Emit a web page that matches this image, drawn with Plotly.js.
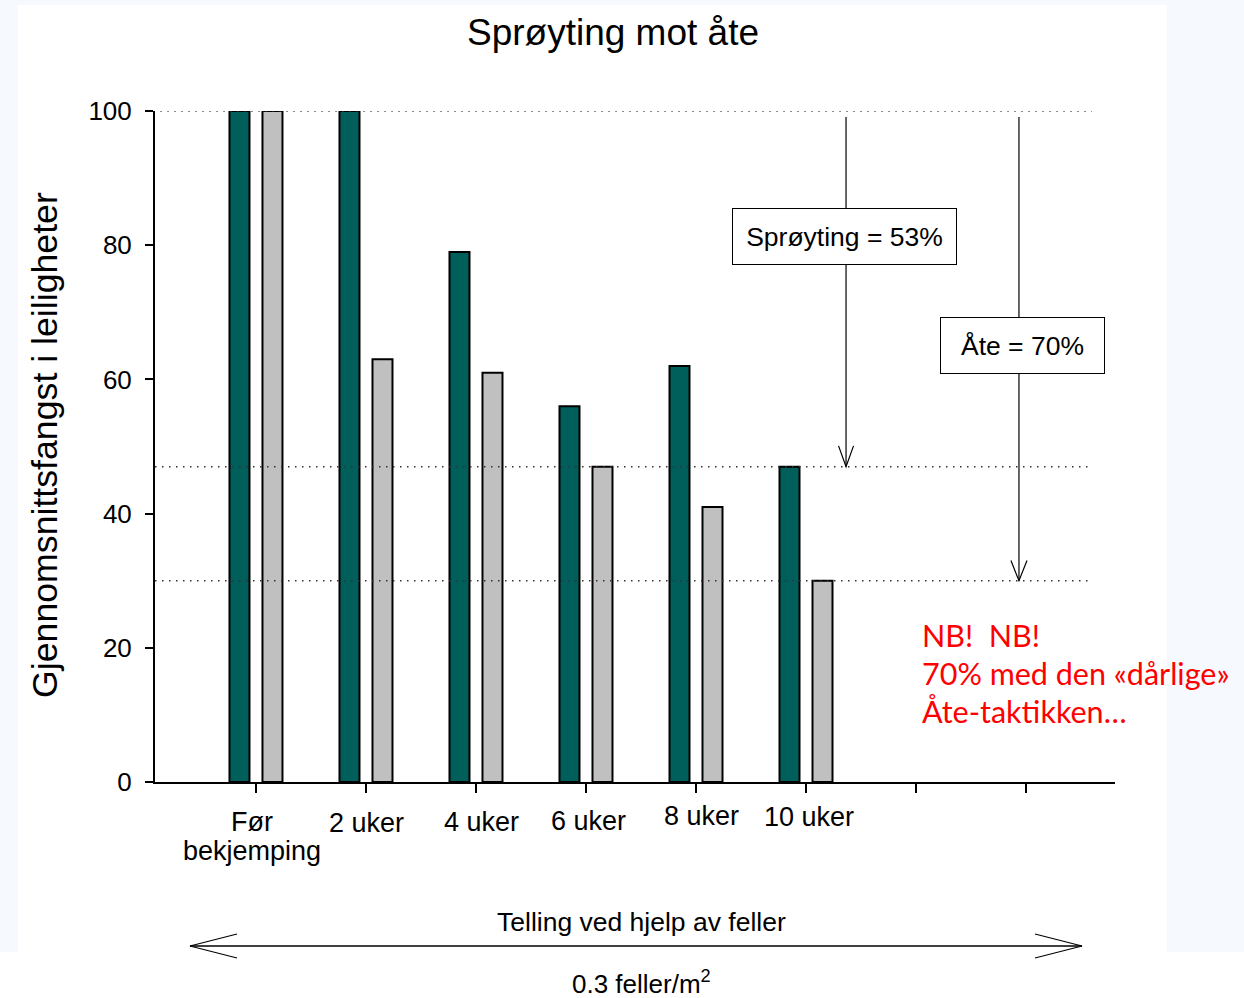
<!DOCTYPE html>
<html>
<head>
<meta charset="utf-8">
<script src="https://cdn.plot.ly/plotly-3.0.1.min.js"></script>
<style>html,body{margin:0;padding:0;background:#fff;}#chart{width:1244px;height:998px;}</style>
</head>
<body>
<div id="chart"></div>
<script>
// ---- data ----
const categories = ["Før<br>bekjemping", "2 uker", "4 uker", "6 uker", "8 uker", "10 uker", "", ""];
const sproyting = [100, 100, 79, 56, 62, 47];
const ate = [100, 63, 61, 47, 41, 30];
const sproytingLabel = "Sprøyting = 53%";
const ateLabel = "Åte = 70%";
const noteLines = ["NB!  NB!", "70% med den «dårlige»", "Åte-taktikken…"];
const titleText = "Sprøyting mot åte";
const yTitleText = "Gjennomsnittsfangst i leiligheter";
const bottomText1 = "Telling ved hjelp av feller";
const bottomText2 = "0.3 feller/m<sup>2</sup>";

// ---- layout helpers (pixel -> paper) ----
const L = 155, R = 1115, T = 111, B = 782;
const px = x => (x - L) / (R - L);
const py = y => (B - y) / (B - T);
const FONT = "Liberation Sans, Arial, sans-serif";

const idx = categories.map((c, i) => i);
const barIdx = sproyting.map((v, i) => i);

const traces = [
  { type: 'bar', x: barIdx, y: sproyting, name: 'Sprøyting',
    marker: { color: '#005E5B', line: { color: '#000', width: 2 } }, hoverinfo: 'y' },
  { type: 'bar', x: barIdx, y: ate, name: 'Åte',
    marker: { color: '#C0C0C0', line: { color: '#000', width: 2 } }, hoverinfo: 'y' }
];

const lastS = sproyting[sproyting.length - 1];
const lastA = ate[ate.length - 1];
const arrowX1 = 5.364, arrowX2 = 6.936;
const dot = { color: '#333', width: 1.5, dash: '1.5px,5.5px' };

const shapes = [
  // faint page background frame
  { type: 'rect', xref: 'paper', yref: 'paper', x0: px(0), x1: px(18), y0: py(952), y1: py(0), fillcolor: '#F6F9FD', line: { width: 0 }, layer: 'below' },
  { type: 'rect', xref: 'paper', yref: 'paper', x0: px(1167), x1: px(1244), y0: py(952), y1: py(0), fillcolor: '#F6F9FD', line: { width: 0 }, layer: 'below' },
  { type: 'rect', xref: 'paper', yref: 'paper', x0: px(18), x1: px(1167), y0: py(5), y1: py(0), fillcolor: '#F6F9FD', line: { width: 0 }, layer: 'below' },
  // dotted reference lines
  { type: 'line', xref: 'x', yref: 'y', x0: -0.87, x1: 7.6, y0: 100, y1: 100, line: dot, layer: 'above' },
  { type: 'line', xref: 'x', yref: 'y', x0: -0.918, x1: 7.6, y0: lastS, y1: lastS, line: dot, layer: 'above' },
  { type: 'line', xref: 'x', yref: 'y', x0: -0.918, x1: 7.6, y0: lastA, y1: lastA, line: dot, layer: 'above' },
  // vertical arrows
  { type: 'line', xref: 'x', yref: 'y', x0: arrowX1, x1: arrowX1, y0: 99.1, y1: lastS, line: { color: '#000', width: 1.2 } },
  { type: 'path', xref: 'x', yref: 'y', path: `M ${arrowX1 - 0.068} ${lastS + 3.1} L ${arrowX1} ${lastS} L ${arrowX1 + 0.068} ${lastS + 3.1}`, line: { color: '#000', width: 1.2 } },
  { type: 'line', xref: 'x', yref: 'y', x0: arrowX2, x1: arrowX2, y0: 99.1, y1: lastA, line: { color: '#000', width: 1.2 } },
  { type: 'path', xref: 'x', yref: 'y', path: `M ${arrowX2 - 0.073} ${lastA + 3.0} L ${arrowX2} ${lastA} L ${arrowX2 + 0.073} ${lastA + 3.0}`, line: { color: '#000', width: 1.2 } },
  // bottom double arrow
  { type: 'line', xref: 'paper', yref: 'paper', x0: px(190), x1: px(1082), y0: py(946), y1: py(946), line: { color: '#000', width: 1.5 } },
  { type: 'path', xref: 'paper', yref: 'paper', path: `M ${px(237)} ${py(934)} L ${px(190)} ${py(946)} L ${px(237)} ${py(958)}`, line: { color: '#000', width: 1.2 } },
  { type: 'path', xref: 'paper', yref: 'paper', path: `M ${px(1035)} ${py(934)} L ${px(1082)} ${py(946)} L ${px(1035)} ${py(958)}`, line: { color: '#000', width: 1.2 } }
];

// category label placement (pixel centres)
const labelDx = [-4, 1, 6, 3, 5, 3];
const labelY = [822, 823, 822, 821, 816, 817];
const annotations = [];
categories.forEach((c, i) => {
  if (!c) return;
  const lines = c.split('<br>');
  lines.forEach((ln, k) => {
    annotations.push({ xref: 'x', yref: 'paper', x: i + labelDx[i] / 110, y: py(labelY[i] + k * 29),
      text: ln, showarrow: false, xanchor: 'center', yanchor: 'middle',
      font: { family: FONT, size: 27, color: '#000' } });
  });
});
noteLines.forEach((ln, k) => {
  annotations.push({ xref: 'paper', yref: 'paper', x: px(920), y: py(635 + k * 38), text: ln, showarrow: false,
    align: 'left', xanchor: 'left', yanchor: 'middle',
    font: { family: 'Lato, Noto Sans, sans-serif', size: 30.5, color: '#FF0000' } });
});
annotations.push(
  { xref: 'paper', yref: 'paper', x: px(45), y: py(445), text: yTitleText, textangle: -90, showarrow: false,
    xanchor: 'center', yanchor: 'middle', font: { family: FONT, size: 35.7, color: '#000' } },
  { xref: 'paper', yref: 'paper', x: px(844.5), y: py(236.5), text: sproytingLabel, showarrow: false,
    xanchor: 'center', yanchor: 'middle', bgcolor: '#fff', bordercolor: '#000', borderwidth: 1, borderpad: 1,
    width: 221, height: 53, font: { family: FONT, size: 26.5, color: '#000' } },
  { xref: 'paper', yref: 'paper', x: px(1022.5), y: py(345.5), text: ateLabel, showarrow: false,
    xanchor: 'center', yanchor: 'middle', bgcolor: '#fff', bordercolor: '#000', borderwidth: 1, borderpad: 1,
    width: 161, height: 53, font: { family: FONT, size: 26.5, color: '#000' } },
  { xref: 'paper', yref: 'paper', x: px(641), y: py(922), text: bottomText1, showarrow: false,
    xanchor: 'center', yanchor: 'middle', font: { family: FONT, size: 26.5, color: '#000' } },
  { xref: 'paper', yref: 'paper', x: px(641), y: py(983), text: bottomText2, showarrow: false,
    xanchor: 'center', yanchor: 'middle', font: { family: FONT, size: 26, color: '#000' } }
);

const layout = {
  width: 1244, height: 998,
  margin: { l: L, r: 1244 - R, t: T, b: 998 - B, pad: 0 },
  paper_bgcolor: '#fff', plot_bgcolor: 'rgba(0,0,0,0)',
  showlegend: false,
  barmode: 'group', bargap: 0.4, bargroupgap: 0.394,
  title: { text: titleText, xref: 'container', yref: 'container', x: 613 / 1244, y: 1 - 32 / 998,
    xanchor: 'center', yanchor: 'middle', font: { family: FONT, size: 37, color: '#000' } },
  xaxis: { range: [-0.918, 7.809], tickmode: 'array', tickvals: idx, showticklabels: false,
    ticks: 'outside', ticklen: 9, tickwidth: 2, tickcolor: '#000', showline: true, linewidth: 2, linecolor: '#000',
    showgrid: false, zeroline: false, fixedrange: true },
  yaxis: { range: [0, 100], tickmode: 'array', tickvals: [0, 20, 40, 60, 80, 100],
    ticks: 'outside', ticklen: 8, tickwidth: 2, tickcolor: '#000', showline: true, linewidth: 2, linecolor: '#000',
    showgrid: false, zeroline: false, ticklabelstandoff: 8,
    tickfont: { family: FONT, size: 26, color: '#000' }, fixedrange: true },
  shapes: shapes,
  annotations: annotations
};

Plotly.newPlot('chart', traces, layout, { displayModeBar: false, staticPlot: true });
</script>
</body>
</html>
